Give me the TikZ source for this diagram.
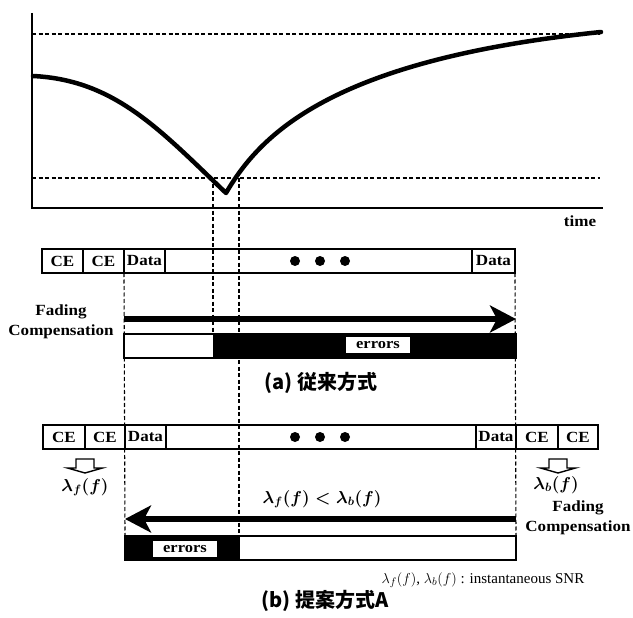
\documentclass[tikz,border=0pt]{standalone}
\usepackage{fontspec}
\setmainfont{Liberation Serif}
\newfontfamily\lblfont[FakeStretch=1.1]{Liberation Serif}
\newfontfamily\cjkfont{Noto Sans CJK JP}
\usetikzlibrary{arrows.meta,positioning}

\tikzset{
  hollowdown/.pic={
    \draw[line width=1.4pt,line join=miter]
      (-9,-7) -- (-9,2) -- (-17.5,2) -- (0,7) -- (17.5,2) -- (9,2) -- (9,-7) -- cycle;
  }
}

\begin{document}
\begin{tikzpicture}[
    x=1pt,y=-1pt,
    lbl/.style={font=\lblfont\fontsize{15.5}{20}\selectfont\bfseries},
    cell/.style={draw,line width=1.6pt,minimum height=24pt,inner sep=0pt,outer sep=0pt,anchor=west,lbl},
    bar/.style={draw,line width=1.6pt,minimum height=24pt,inner sep=0pt,outer sep=0pt},
    tag/.style={fill=white,inner sep=0pt,minimum width=64pt,minimum height=16pt,
      font=\lblfont\fontsize{15}{15}\selectfont\bfseries},
    guide/.style={line width=1.1pt,dash pattern=on 4pt off 2.5pt},
    fat/.style={line width=6pt,-{Stealth[length=26pt,width=27pt,inset=7pt]}},
    snr/.style={font=\fontsize{18}{20}\selectfont\boldmath},
    dot/.style={circle,fill,inner sep=0pt,minimum size=10pt},
    caption/.style={font=\cjkfont\bfseries\fontsize{20}{22}\selectfont}
  ]
  \useasboundingbox (0,0) rectangle (633,618);

  % SNR against time
  \coordinate (top) at (32,13);
  \coordinate (orig) at (32,208);
  \coordinate (tend) at (603,208);
  \draw[guide] (32,34) -- (600,34);
  \draw[guide] (32,178) -- (600,178);
  \draw[line width=2.6pt] (top) -- (orig) -- (tend);
  \node[lbl] (time) at (580,221) {time};
  \draw[line width=4.5pt,line join=round,line cap=round]
    (33,76) .. controls (115,80) and (160,130) .. (226,193)
            .. controls (260,135) and (330,60) .. (601,32);

  % (a) conventional frame
  \node[cell,minimum width=41pt] (ceA1) at (42,261) {CE};
  \node[cell,minimum width=41pt,right=0pt of ceA1] (ceA2) {CE};
  \node[cell,minimum width=41pt,right=0pt of ceA2] (dataA1) {Data};
  \node[cell,minimum width=307pt,right=0pt of dataA1] (bodyA) {};
  \node[cell,minimum width=43pt,right=0pt of bodyA] (dataA2) {Data};
  \foreach \i/\x in {1/295,2/320,3/345}
    \node[dot] (dotA\i) at (\x,261) {};

  \node[lbl,align=center] (fcA) at (61,322) {Fading\\Compensation};
  \coordinate (fcA0) at (124,319);
  \coordinate (fcA1) at (516,319);
  \draw[fat] (fcA0) -- (fcA1);

  \node[bar,minimum width=392pt] (barA) at (320,346) {};
  \fill (213,334) rectangle (barA.south east);
  \node[tag] (errA) at (378,345) {errors};
  \node[caption] (capA) at (321,383) {(a) 従来方式};

  % (b) proposed frame
  \node[cell,minimum width=42pt] (ceB1) at (43,437) {CE};
  \node[cell,minimum width=40pt,right=0pt of ceB1] (ceB2) {CE};
  \node[cell,minimum width=41pt,right=0pt of ceB2] (dataB1) {Data};
  \node[cell,minimum width=310pt,right=0pt of dataB1] (bodyB) {};
  \node[cell,minimum width=40pt,right=0pt of bodyB] (dataB2) {Data};
  \node[cell,minimum width=42pt,right=0pt of dataB2] (ceB3) {CE};
  \node[cell,minimum width=40pt,right=0pt of ceB3] (ceB4) {CE};
  \foreach \i/\x in {1/295,2/320,3/345}
    \node[dot] (dotB\i) at (\x,437) {};

  \pic (downF) at (85,466) {hollowdown};
  \pic (downB) at (558,466) {hollowdown};
  \node[snr] (lamF) at (85,487) {$\lambda_f(f)$};
  \node[snr] (lamB) at (556,485) {$\lambda_b(f)$};
  \node[snr] (rel) at (322,499) {$\lambda_f(f) < \lambda_b(f)$};

  \node[lbl,align=center] (fcB) at (578,518) {Fading\\Compensation};
  \coordinate (fcB0) at (516,519);
  \coordinate (fcB1) at (125,519);
  \draw[fat] (fcB0) -- (fcB1);

  \node[bar,minimum width=391pt] (barB) at (320.5,548) {};
  \fill (barB.north west) rectangle (240,560);
  \node[tag] (errB) at (185,549) {errors};
  \node[font=\fontsize{15}{17}\selectfont] (note) at (483,580)
    {$\lambda_f(f)$, $\lambda_b(f)$ : instantaneous SNR};
  \node[caption] (capB) at (325,601) {(b) 提案方式A};

  % guide lines
  \draw[guide] (213,178) -- (213,334);
  \draw[guide] (239,178) -- (239,536);
  \draw[guide] (ceA2.south east) -- (barB.north west);
  \draw[guide] (dataA2.south east) -- (barB.north east);
\end{tikzpicture}
\end{document}
